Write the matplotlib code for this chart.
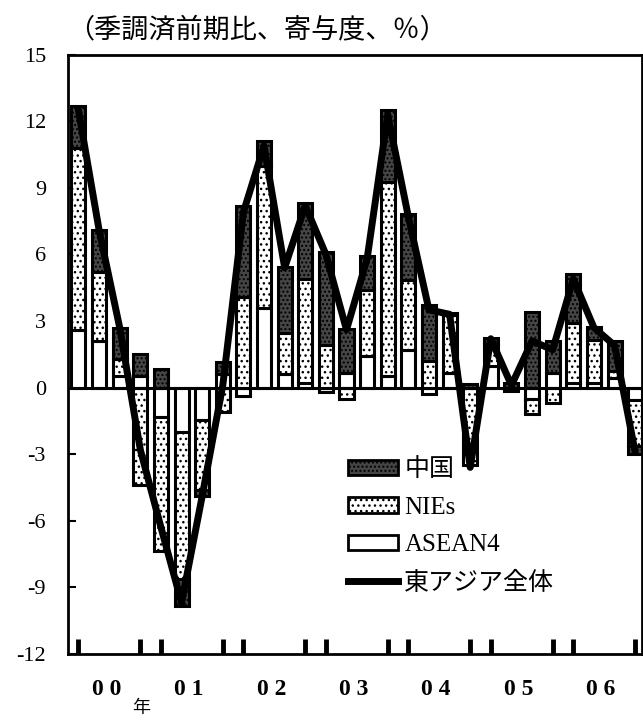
import matplotlib
matplotlib.use("Agg")
import matplotlib.pyplot as plt
import matplotlib.patches as mpatches
import matplotlib.lines as mlines
import numpy as np

# ── data (quarterly, 2000Q1 – 2006Q4) ─────────────────────
years = ["0 0", "0 1", "0 2", "0 3", "0 4", "0 5", "0 6"]
asean4 = [2.6, 2.1, 0.5, 0.5, -1.35, -2.0, -1.45, 0.6,
          -0.4, 3.6, 0.6, 0.2, -0.2, 0.65, 1.4, 0.5,
          1.7, -0.3, 0.65, 0.0, 0.95, 0.0, -0.5, 0.65,
          0.2, 0.2, 0.45, -0.55]
nies = [8.2, 3.1, 0.8, -4.4, -6.0, -6.65, -3.15, -1.1,
        4.1, 6.4, 1.85, 4.7, 1.9, -0.5, 3.0, 8.75,
        3.15, 1.2, 2.6, -3.5, 1.0, -0.15, -0.7, -0.7,
        2.7, 1.95, 0.3, -2.1]
china = [1.9, 1.9, 1.4, 1.0, 0.85, -1.2, -0.3, 0.55,
         4.1, 1.1, 3.0, 3.4, 4.2, 2.0, 1.55, 3.25,
         2.95, 2.5, 0.1, 0.15, 0.3, 0.2, 3.4, 1.45,
         2.2, 0.6, 1.35, -0.35]
east_asia = [12.5, 7.1, 2.7, -2.8, -6.3, -9.7, -4.9, 0.1,
             7.9, 10.9, 5.4, 8.2, 6.0, 2.6, 5.8, 12.3,
             7.7, 3.5, 3.3, -3.6, 2.2, 0.1, 2.1, 1.7,
             4.9, 2.7, 1.9, -2.9]
y_ticks = [15, 12, 9, 6, 3, 0, -3, -6, -9, -12]

JP = ["Noto Sans CJK JP", "DejaVu Sans"]
NUM = ["Liberation Serif", "DejaVu Serif"]
MIX = ["Liberation Serif", "Noto Sans CJK JP", "DejaVu Sans"]

fig = plt.figure(figsize=(6.43, 7.2), dpi=100)
ax = fig.add_axes([0.106, 0.092, 0.893, 0.832])

x = np.arange(len(china))
series = [
    (asean4, dict(facecolor="white", hatch=None)),
    (nies, dict(facecolor="white", hatch="...")),
    (china, dict(facecolor="#454545", hatch="....")),
]
pos_base = np.zeros(len(x))
neg_base = np.zeros(len(x))
for vals, style in series:
    v = np.array(vals)
    base = np.where(v >= 0, pos_base, neg_base)
    ax.bar(x, v, bottom=base, width=0.68, edgecolor="black",
           linewidth=2.2, zorder=2, **style)
    pos_base = pos_base + np.clip(v, 0, None)
    neg_base = neg_base + np.clip(v, None, 0)

ax.axhline(0, color="black", linewidth=2.2, zorder=3)
ax.plot(x, east_asia, color="black", linewidth=5, zorder=4,
        solid_joinstyle="round", solid_capstyle="round")

ax.set_xlim(-0.5, 27.35)
ax.set_ylim(-12, 15)
ax.set_yticks(y_ticks)
ax.set_yticklabels([str(t) for t in y_ticks], family=NUM, fontsize=16)
ax.tick_params(axis="y", direction="in", length=6, width=1.5, pad=16)

# year boundary marks along the bottom axis
ax.set_xticks([0, 3, 4, 7, 8, 11, 12, 15, 16, 19, 20, 23, 24, 27])
ax.set_xticklabels([])
ax.tick_params(axis="x", direction="in", length=11, width=3.5)
for i, lab in enumerate(years):
    ax.text(1.35 + 4 * i, -13.6, lab, ha="center", va="center",
            family=NUM, fontsize=17, fontweight="bold")
ax.text(3.05, -14.45, "年", ha="center", va="center", family=JP, fontsize=13)

for s in ax.spines.values():
    s.set_linewidth(2)

fig.text(0.105, 0.958, "（季調済前期比、寄与度、％）", ha="left", va="center",
         family=JP, fontsize=19.5)

handles = [
    mpatches.Patch(facecolor="#454545", hatch="....", edgecolor="black", linewidth=2),
    mpatches.Patch(facecolor="white", hatch="...", edgecolor="black", linewidth=2),
    mpatches.Patch(facecolor="white", edgecolor="black", linewidth=2),
    mlines.Line2D([], [], color="black", linewidth=5),
]
labels = ["中国", "NIEs", "ASEAN4", "東アジア全体"]
leg = ax.legend(handles, labels, loc="upper left", bbox_to_anchor=(0.47, 0.343),
                frameon=False, prop={"family": MIX, "size": 18},
                handlelength=2.0, handleheight=0.6, labelspacing=0.62,
                handletextpad=0.25, borderaxespad=0)

fig.savefig("out.png", dpi=100)
